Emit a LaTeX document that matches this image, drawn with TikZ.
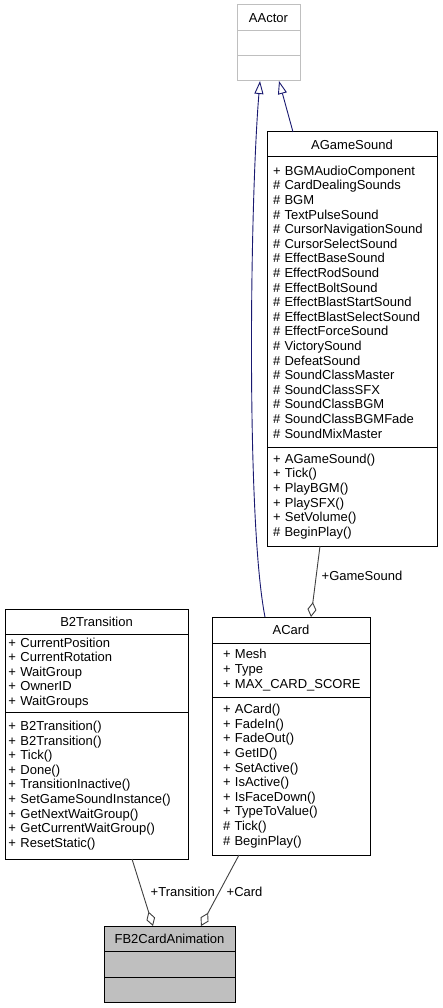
\documentclass[tikz,border=0pt]{standalone}
\usepackage{fontspec}
\setmainfont{Liberation Sans}
\usetikzlibrary{positioning,arrows.meta}
\definecolor{edgegray}{HTML}{404040}
\definecolor{inhblue}{HTML}{191970}
\definecolor{boxgray}{HTML}{BFBFBF}

\begin{document}
\begin{tikzpicture}[x=1pt,y=-1pt,
% Class box styles
cls/.style={draw=black,fill=white,line width=1pt,inner xsep=6pt,
	inner ysep=0pt,outer sep=0pt,align=left,
	font=\fontsize{13}{14.6}\selectfont},
ttl/.style={cls,align=center,minimum height=#1,anchor=north west},
sec/.style={cls,minimum height=#1},
% Edge styles
inh/.style={draw=inhblue,line width=0.9pt,
	-{Triangle[length=13pt,width=9pt,fill=white]}},
agg/.style={draw=edgegray,line width=0.9pt,
	-{Diamond[length=15pt,width=9pt,fill=white]}},
lbl/.style={font=\fontsize{13}{14.6}\selectfont,inner sep=0pt,
	anchor=west,text=black},
]
\useasboundingbox (0,0) rectangle (443,1008);

%% Base class
\node (actor) [ttl=26pt,draw=boxgray,text width=51pt] at (237,5) {AActor};
\node (actor-a) [sec=25pt,draw=boxgray,text width=51pt,below=0pt of actor] {};
\node (actor-m) [sec=25pt,draw=boxgray,text width=51pt,below=0pt of actor-a] {};

%% Sound class
\node (gs) [ttl=25pt,text width=158pt] at (267,132) {AGameSound};
\node (gs-a) [sec=290pt,text width=158pt,below=0pt of gs] {%
+ BGMAudioComponent\\
\# CardDealingSounds\\
\# BGM\\
\# TextPulseSound\\
\# CursorNavigationSound\\
\# CursorSelectSound\\
\# EffectBaseSound\\
\# EffectRodSound\\
\# EffectBoltSound\\
\# EffectBlastStartSound\\
\# EffectBlastSelectSound\\
\# EffectForceSound\\
\# VictorySound\\
\# DefeatSound\\
\# SoundClassMaster\\
\# SoundClassSFX\\
\# SoundClassBGM\\
\# SoundClassBGMFade\\
\# SoundMixMaster};
\node (gs-m) [sec=99pt,text width=158pt,below=0pt of gs-a] {%
+ AGameSound()\\
+ Tick()\\
+ PlayBGM()\\
+ PlaySFX()\\
+ SetVolume()\\
\# BeginPlay()};

%% Transition class
\node (tr) [ttl=25pt,text width=171pt] at (5,609) {B2Transition};
\node (tr-a) [sec=78pt,inner xsep=3.5pt,text width=176pt,below=0pt of tr] {%
+ CurrentPosition\\
+ CurrentRotation\\
+ WaitGroup\\
+ OwnerID\\
+ WaitGroups};
\node (tr-m) [sec=147pt,inner xsep=3.5pt,text width=176pt,below=0pt of tr-a] {%
+ B2Transition()\\
+ B2Transition()\\
+ Tick()\\
+ Done()\\
+ TransitionInactive()\\
+ SetGameSoundInstance()\\
+ GetNextWaitGroup()\\
+ GetCurrentWaitGroup()\\
+ ResetStatic()};

%% Card class
\node (card) [ttl=26pt,text width=146pt] at (212,617) {ACard};
\node (card-a) [sec=54pt,inner xsep=11pt,text width=136pt,below=0pt of card] {%
+ Mesh\\
+ Type\\
+~MAX\_CARD\_SCORE};
\node (card-m) [sec=158pt,inner xsep=11pt,text width=136pt,below=0pt of card-a] {%
+ ACard()\\
+ FadeIn()\\
+ FadeOut()\\
+ GetID()\\
+ SetActive()\\
+ IsActive()\\
+ IsFaceDown()\\
+ TypeToValue()\\
\# Tick()\\
\# BeginPlay()};

%% Animation struct
\node (anim) [ttl=25pt,fill=boxgray,text width=119pt] at (104,926) {FB2CardAnimation};
\node (anim-a) [sec=26pt,fill=boxgray,text width=119pt,below=0pt of anim] {};
\node (anim-m) [sec=25pt,fill=boxgray,text width=119pt,below=0pt of anim-a] {};

%% Inheritance
\draw[inh] ([xshift=53pt]card.north west) .. controls (246,520) and (250,200)
	.. ([xshift=23pt]actor-m.south west);
\draw[inh] ([xshift=26pt]gs.north west) -- ([xshift=42pt]actor-m.south west);

%% Aggregation
\draw[agg] ([xshift=53pt]gs-m.south west) -- ([xshift=99pt]card.north west)
	node (l-gs) [lbl,pos=0.42,xshift=5pt] {+GameSound};
\draw[agg] ([xshift=127pt]tr-m.south west) -- ([xshift=49pt]anim.north west)
	node (l-tr) [lbl,pos=0.49,xshift=8pt] {+Transition};
\draw[agg] ([xshift=27pt]card-m.south west) -- ([xshift=97pt]anim.north west)
	node (l-card) [lbl,pos=0.52,xshift=7pt] {+Card};

\end{tikzpicture}
\end{document}
